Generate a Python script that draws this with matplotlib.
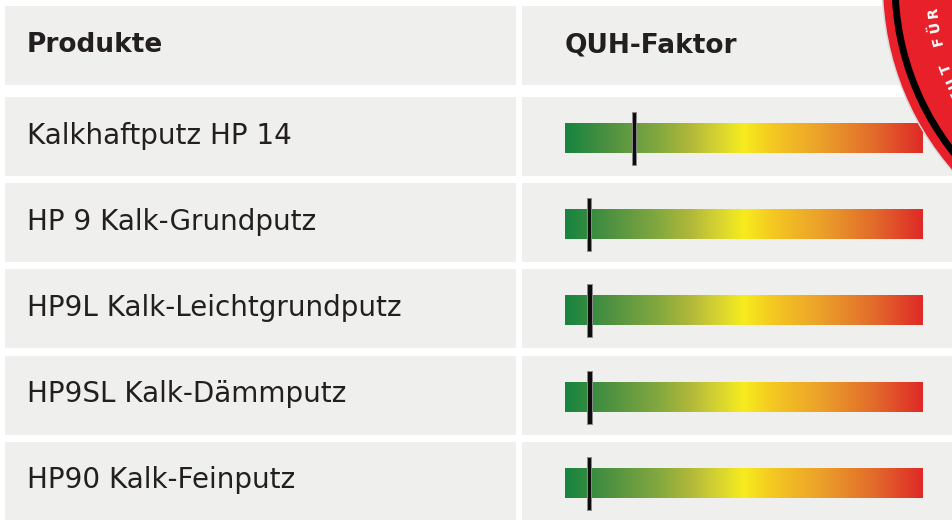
import numpy as np
import matplotlib
matplotlib.use("Agg")
from matplotlib import pyplot as plt
from matplotlib.patches import Rectangle, Circle
from matplotlib.colors import LinearSegmentedColormap

produkte = ["Kalkhaftputz HP 14", "HP 9 Kalk-Grundputz", "HP9L Kalk-Leichtgrundputz",
            "HP9SL Kalk-Dämmputz", "HP90 Kalk-Feinputz"]
quh_faktor = [19.3, 6.7, 6.8, 6.8, 6.7]   # Position auf der Skala 0..100
skala_max = 100
header = ["Produkte", "QUH-Faktor"]
badge_text = "INSTITUT FÜR"

grad_pos = [0.0, 0.12, 0.26, 0.35, 0.42, 0.5, 0.58, 0.72, 0.86, 1.0]
grad_col = ["#17843f", "#4d9141", "#83a83f", "#b1b83a", "#d2d133", "#f7ec1d",
            "#f4c822", "#eb9f2a", "#e26d2b", "#df2a27"]
cmap = LinearSegmentedColormap.from_list("quh", list(zip(grad_pos, grad_col)))

W, H = 953, 520
fig = plt.figure(figsize=(W / 100, H / 100), dpi=100)
ax = fig.add_axes([0, 0, 1, 1])
ax.set_xlim(0, W)
ax.set_ylim(H, 0)
ax.axis("off")

grau = "#efefed"
txt = "#231f20"
col_x = [(5, 516), (522, 980)]
row_top = [6, 97, 183, 269, 356, 442]
row_h = 79

# Zellen
for top in row_top:
    for x0, x1 in col_x:
        ax.add_patch(Rectangle((x0, top), x1 - x0, row_h, fc=grau, ec="none", zorder=1))

# Kopfzeile
yc = row_top[0] + row_h / 2
ax.text(27, yc, header[0], fontsize=19, fontweight="bold", color=txt, va="center", ha="left", zorder=3)
ax.text(565, yc, header[1], fontsize=19, fontweight="bold", color=txt, va="center", ha="left", zorder=3)

# Zeilen mit Farbbalken
bar_x0, bar_x1, bar_h = 565, 923, 30
grad = np.linspace(0, 1, 512).reshape(1, -1)
for name, val, top in zip(produkte, quh_faktor, row_top[1:]):
    yc = top + row_h / 2
    ax.text(27, yc - 1, name, fontsize=20, color=txt, va="center", ha="left", zorder=3)
    by = yc + 2
    ax.imshow(grad, cmap=cmap, extent=(bar_x0, bar_x1, by + bar_h / 2, by - bar_h / 2),
              aspect="auto", zorder=2, interpolation="bilinear")
    mx = bar_x0 + val / skala_max * (bar_x1 - bar_x0)
    ax.add_patch(Rectangle((mx - 2.2, by - 26.5), 4.4, 53, fc="#0d0d0d", ec="#8a8a8a",
                           lw=0.7, zorder=4))

# Siegel oben rechts
cx, cy, r = 1167, -16, 284
ax.add_patch(Circle((cx, cy), r + 1.5, fc="#d9d9d9", ec="none", zorder=5))
ax.add_patch(Circle((cx, cy), r, fc="#e8202a", ec="none", zorder=6))
ax.add_patch(Circle((cx, cy), r - 12, fc="none", ec="#000000", lw=5, zorder=7))
r_txt = 236
ang = np.deg2rad(134.6)
step = np.deg2rad(3.5)
for ch in badge_text:
    if ch != " ":
        px = cx + r_txt * np.cos(ang)
        py = cy + r_txt * np.sin(ang)
        rot = (-np.rad2deg(ang) - 90) % 360
        ax.text(px, py, ch, fontsize=10, fontweight="bold", color="white", ha="center",
                va="center", rotation=rot, rotation_mode="anchor", zorder=8)
    ang += step

ax.set_ylim(H, 0)
ax.set_xlim(0, W)
fig.savefig("out.png", dpi=100)
